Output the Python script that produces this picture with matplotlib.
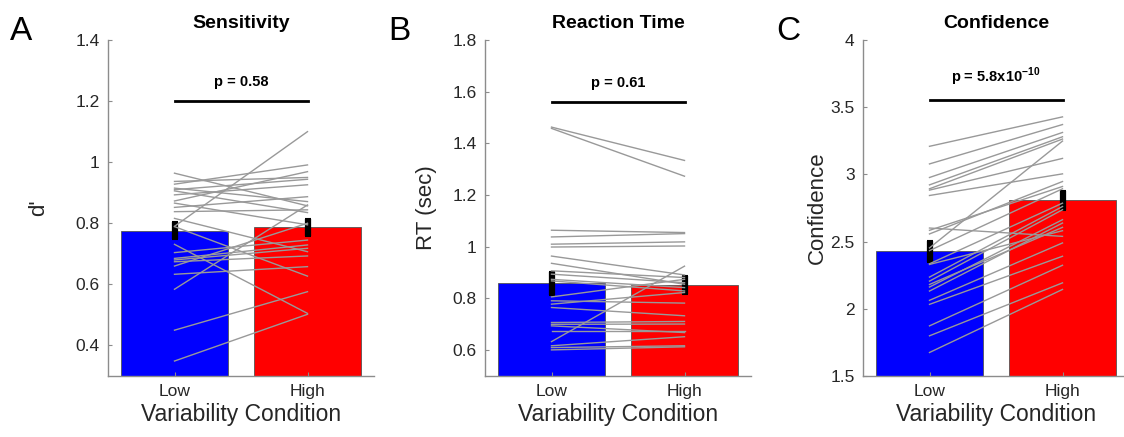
import numpy as np
import matplotlib
matplotlib.use('Agg')
import matplotlib.pyplot as plt

plt.rcParams['font.family'] = ['Liberation Sans', 'DejaVu Sans']
plt.rcParams['mathtext.fontset'] = 'custom'
plt.rcParams['mathtext.rm'] = 'Liberation Sans'
plt.rcParams['mathtext.bf'] = 'Liberation Sans:bold'

# conditions
conditions = ['Low', 'High']

# panel A: sensitivity (d')
sens_low = [0.964, 0.937, 0.928, 0.915, 0.910, 0.906, 0.893, 0.873, 0.866, 0.852, 0.838, 0.816,
            0.790, 0.789, 0.731, 0.704, 0.685, 0.680, 0.674, 0.660, 0.633, 0.584, 0.450, 0.349]
sens_high = [0.857, 0.950, 0.991, 0.871, 0.944, 0.835, 0.926, 0.969, 0.795, 0.887, 0.844, 0.707,
             1.100, 0.627, 0.505, 0.745, 0.729, 0.718, 0.693, 0.800, 0.658, 0.860, 0.576, 0.502]
sens_mean = [0.776, 0.787]
sens_sem = [0.029, 0.028]

# panel B: reaction time (sec)
rt_low = [1.463, 1.458, 1.064, 1.038, 1.010, 0.999, 0.964, 0.936, 0.907, 0.894, 0.874, 0.868,
          0.806, 0.791, 0.778, 0.765, 0.707, 0.700, 0.694, 0.675, 0.633, 0.617, 0.610, 0.601]
rt_high = [1.334, 1.273, 1.055, 1.051, 1.019, 1.003, 0.891, 0.855, 0.881, 0.861, 0.842, 0.829,
           0.874, 0.782, 0.823, 0.733, 0.711, 0.701, 0.668, 0.675, 0.925, 0.652, 0.617, 0.613]
rt_mean = [0.858, 0.852]
rt_sem = [0.044, 0.035]

# panel C: confidence
conf_low = [3.209, 3.078, 2.977, 2.922, 2.893, 2.883, 2.843, 2.601, 2.584, 2.557, 2.453, 2.433,
            2.335, 2.330, 2.236, 2.206, 2.181, 2.162, 2.132, 2.063, 2.033, 1.873, 1.799, 1.675]
conf_high = [3.428, 3.371, 3.312, 3.280, 3.263, 3.119, 3.004, 2.539, 2.910, 2.947, 3.248, 2.893,
             2.786, 2.581, 2.761, 2.737, 2.606, 2.663, 2.638, 2.490, 2.391, 2.324, 2.193, 2.144]
conf_mean = [2.428, 2.806]
conf_sem = [0.079, 0.074]

panels = [
    dict(letter='A', title='Sensitivity', ylabel="d'", low=sens_low, high=sens_high,
         mean=sens_mean, sem=sens_sem, ylim=(0.3, 1.4), yticks=[0.4, 0.6, 0.8, 1.0, 1.2, 1.4],
         yticklabels=['0.4', '0.6', '0.8', '1', '1.2', '1.4'], sig_y=1.2, p='p = 0.58'),
    dict(letter='B', title='Reaction Time', ylabel='RT (sec)', low=rt_low, high=rt_high,
         mean=rt_mean, sem=rt_sem, ylim=(0.5, 1.8), yticks=[0.6, 0.8, 1.0, 1.2, 1.4, 1.6, 1.8],
         yticklabels=['0.6', '0.8', '1', '1.2', '1.4', '1.6', '1.8'], sig_y=1.56, p='p = 0.61'),
    dict(letter='C', title='Confidence', ylabel='Confidence', low=conf_low, high=conf_high,
         mean=conf_mean, sem=conf_sem, ylim=(1.5, 4.0), yticks=[1.5, 2, 2.5, 3, 3.5, 4],
         yticklabels=['1.5', '2', '2.5', '3', '3.5', '4'], sig_y=3.55,
         p=r'p = 5.8x10$^{\mathbf{-10}}$'),
]

W, H = 1124, 437
fig = plt.figure(figsize=(W / 100, H / 100), dpi=100)
lefts = [108, 485, 863]
letter_x = [10, 388, 776]
ylabel_x = [49, 437, 828]   # right edge of the rotated y label
axis_w = 266
text_col = '#262626'
spine_col = '#8c8c8c'

x = np.array([1, 2])
for left, lx, yx, p in zip(lefts, letter_x, ylabel_x, panels):
    ax = fig.add_axes([left / W, 1 - 376 / H, axis_w / W, 336 / H])
    ax.bar(x, p['mean'], width=0.8, color=['#0000ff', '#ff0000'],
           edgecolor='#555555', linewidth=0.6, zorder=1)
    ax.errorbar(x, p['mean'], yerr=p['sem'], fmt='none', ecolor='black',
                elinewidth=4.5, capsize=2, capthick=1.5, zorder=2)
    for lo, hi in zip(p['low'], p['high']):
        ax.plot(x, [lo, hi], color='#999999', linewidth=1.0, zorder=3)

    ax.plot(x, [p['sig_y'], p['sig_y']], color='black', linewidth=2.0, zorder=4)
    ax.annotate(p['p'], xy=(1.5, p['sig_y']), xytext=(0, 9), textcoords='offset points',
                ha='center', va='bottom', fontsize=10.5, fontweight='bold', color='black')

    ax.set_xlim(0.5, 2.5)
    ax.set_ylim(*p['ylim'])
    ax.set_xticks(x)
    ax.set_xticklabels(conditions)
    ax.set_yticks(p['yticks'])
    ax.set_yticklabels(p['yticklabels'])
    ax.tick_params(direction='in', length=3, width=0.8, colors=spine_col,
                   labelcolor=text_col, labelsize=12.5, pad=6)
    for side in ['top', 'right']:
        ax.spines[side].set_visible(False)
    for side in ['left', 'bottom']:
        ax.spines[side].set_color(spine_col)
        ax.spines[side].set_linewidth(1.0)

    ax.set_xlabel('Variability Condition', fontsize=16.5, color=text_col, labelpad=3)
    ax.set_ylabel(p['ylabel'], fontsize=16, color=text_col)
    ax.yaxis.set_label_coords((yx - left) / axis_w, 0.5)
    ax.set_title(p['title'], fontsize=14, fontweight='bold', color='black', pad=8.5)

    fig.text(lx / W, 1 - 40 / H, p['letter'], fontsize=24, color='black',
             ha='left', va='baseline')

fig.savefig('out.png', dpi=100)
